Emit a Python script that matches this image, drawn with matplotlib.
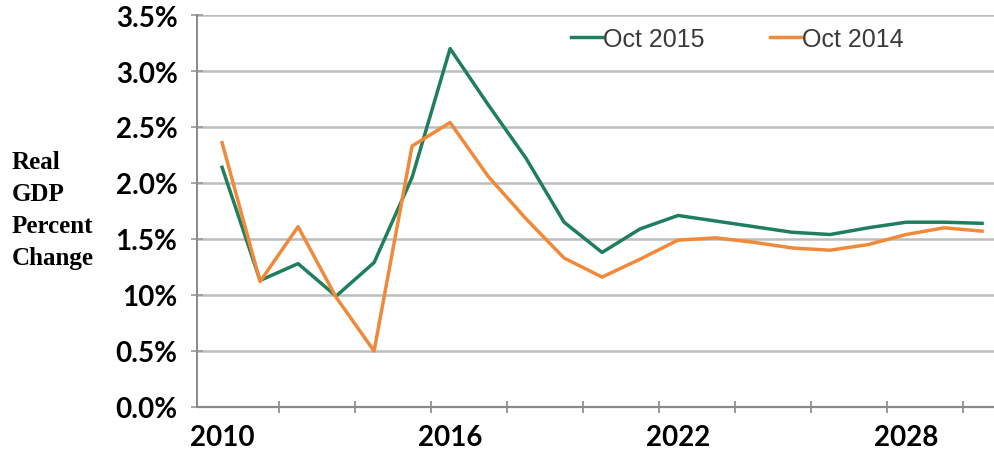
import matplotlib
import matplotlib.pyplot as plt
from matplotlib.ticker import FixedLocator

matplotlib.use("Agg")

YEARS = list(range(2010, 2031))
OCT_2015 = [2.14, 1.13, 1.28, 0.99, 1.29, 2.05, 3.20, 2.70, 2.22, 1.65, 1.38,
            1.59, 1.71, 1.66, 1.61, 1.56, 1.54, 1.60, 1.65, 1.65, 1.64]
OCT_2014 = [2.36, 1.12, 1.61, 0.98, 0.50, 2.33, 2.54, 2.06, 1.68, 1.33, 1.16,
            1.32, 1.49, 1.51, 1.47, 1.42, 1.40, 1.45, 1.54, 1.60, 1.57]
Y_TICKS = [0.0, 0.5, 1.0, 1.5, 2.0, 2.5, 3.0, 3.5]
Y_LABELS = ["0.0%", "0.5%", "10%", "1.5%", "2.0%", "2.5%", "3.0%", "3.5%"]
X_LABEL_YEARS = [2010, 2016, 2022, 2028]

GREEN = "#1f7f5d"
ORANGE = "#f08a3a"
GRID = "#bdbdbd"

fig = plt.figure(figsize=(9.95, 4.52), dpi=100, facecolor="white")
ax = fig.add_axes((197 / 995, 44 / 452, 798 / 995, 392 / 452))

ax.plot(YEARS, OCT_2015, color=GREEN, lw=2.5, label="Oct 2015", solid_joinstyle="round")
ax.plot(YEARS, OCT_2014, color=ORANGE, lw=2.5, label="Oct 2014", solid_joinstyle="round")

ax.set_xlim(2009.34, 2030.34)
ax.set_ylim(0, 3.5)

ax.set_yticks(Y_TICKS)
ax.set_yticklabels(Y_LABELS, fontfamily="Lato", fontweight="bold", fontsize=20)
ax.yaxis.grid(True, color=GRID, lw=1.8)
ax.set_axisbelow(True)
ax.tick_params(axis="y", direction="inout", length=8, width=1.2, color="#9a9a9a", pad=10)

ax.set_xticks(X_LABEL_YEARS)
ax.set_xticklabels([str(y) for y in X_LABEL_YEARS],
                   fontfamily="Lato", fontweight="bold", fontsize=20)
ax.tick_params(axis="x", length=0, pad=12)
ax.xaxis.set_minor_locator(FixedLocator([2011.5 + 2 * k for k in range(10)]))
ax.tick_params(axis="x", which="minor", direction="inout", length=9, width=1.2, color="#8a8a8a")

for side in ("top", "right"):
    ax.spines[side].set_visible(False)
ax.spines["left"].set_color("#8a8a8a")
ax.spines["left"].set_linewidth(1.4)
ax.spines["bottom"].set_color("#8a8a8a")
ax.spines["bottom"].set_linewidth(1.6)

ax.set_ylabel("Real\nGDP\nPercent\nChange", rotation=0, ha="left", va="center",
              multialignment="left", fontfamily="Liberation Serif", fontweight="bold",
              fontsize=18, linespacing=1.5)
ax.yaxis.set_label_coords(-0.232, 0.505)

leg = ax.legend(loc="center", bbox_to_anchor=(0.677, 0.939), ncol=2, frameon=False,
                handlelength=1.25, handletextpad=0.05, columnspacing=2.6,
                prop={"family": "Liberation Sans", "size": 18})
for t in leg.get_texts():
    t.set_color("#3a3a3a")

fig.savefig("out.png", dpi=100)
